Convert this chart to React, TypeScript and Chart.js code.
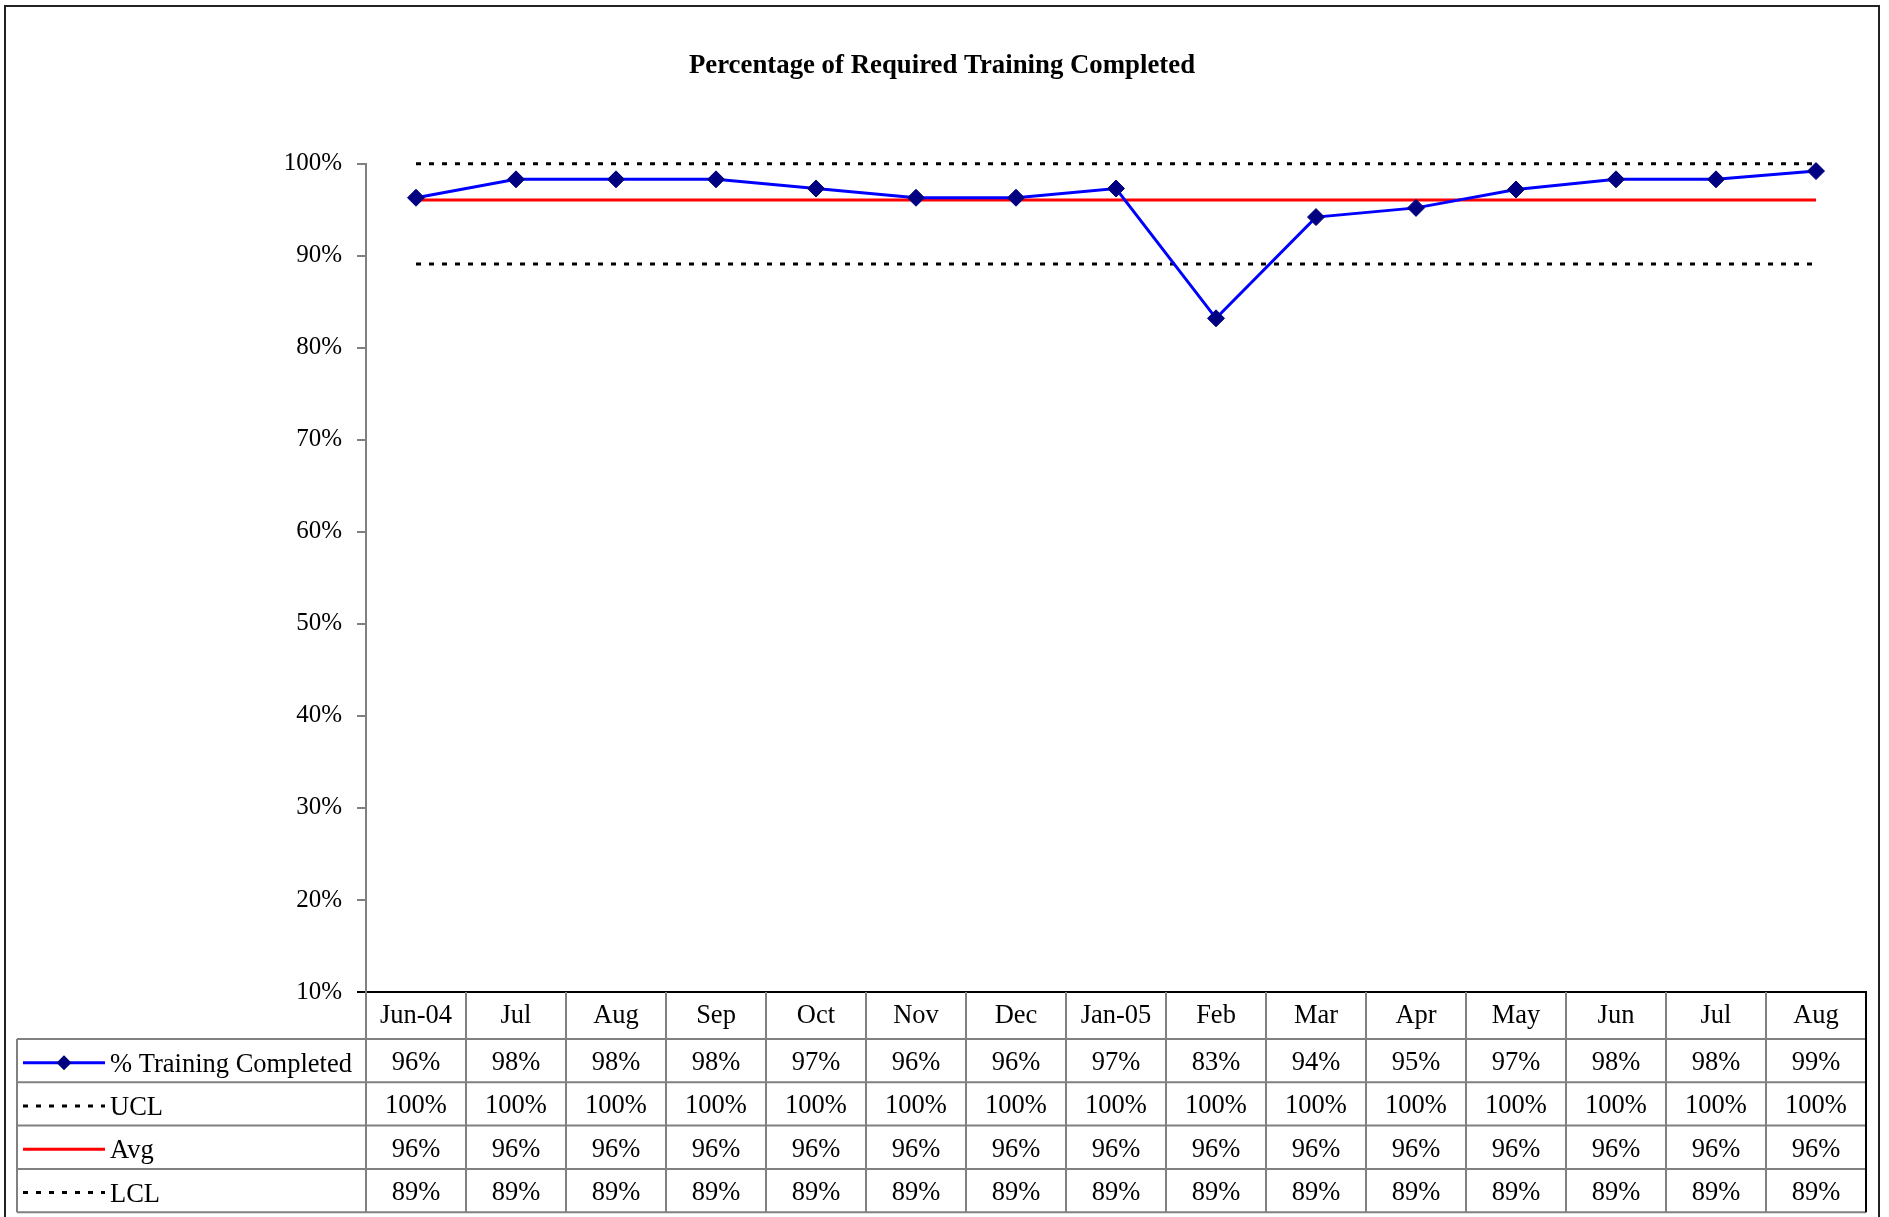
import React, { useEffect, useRef } from "react";
import { Chart, registerables } from "chart.js";

Chart.register(...registerables);

const TITLE = "Percentage of Required Training Completed";
const categories = ["Jun-04", "Jul", "Aug", "Sep", "Oct", "Nov", "Dec", "Jan-05", "Feb", "Mar", "Apr", "May", "Jun", "Jul", "Aug"];
const completed = [96.3, 98.3, 98.3, 98.3, 97.3, 96.3, 96.3, 97.3, 83.2, 94.2, 95.2, 97.2, 98.3, 98.3, 99.2];
const ucl = [100, 100, 100, 100, 100, 100, 100, 100, 100, 100, 100, 100, 100, 100, 100];
const avg = [96.05, 96.05, 96.05, 96.05, 96.05, 96.05, 96.05, 96.05, 96.05, 96.05, 96.05, 96.05, 96.05, 96.05, 96.05];
const lcl = [89.1, 89.1, 89.1, 89.1, 89.1, 89.1, 89.1, 89.1, 89.1, 89.1, 89.1, 89.1, 89.1, 89.1, 89.1];
const seriesNames = ["% Training Completed", "UCL", "Avg", "LCL"];
const yTicks = [10, 20, 30, 40, 50, 60, 70, 80, 90, 100];

const W = 1889;
const H = 1217;
const SERIF = "'Liberation Serif', 'Times New Roman', serif";
const GRAY = "#808080";
const DASH = [5, 8];

const tablePlugin = {
  id: "tablePlugin",
  afterDraw(chart: any) {
    const ctx = chart.ctx;
    const area = chart.chartArea;
    const xs = chart.scales.x;
    const n = categories.length;
    const band = (area.right - area.left) / n;
    const top = area.bottom;
    const headerBottom = top + 47;
    const rowH = 43.3;
    const tableLeft = 17;
    const tableBottom = headerBottom + rowH * 4;
    const rows = [completed, ucl, avg, lcl];

    ctx.save();
    // frame
    ctx.strokeStyle = "#222";
    ctx.lineWidth = 2;
    ctx.beginPath();
    ctx.moveTo(5, H + 5);
    ctx.lineTo(5, 6);
    ctx.lineTo(1879, 6);
    ctx.lineTo(1879, H + 5);
    ctx.stroke();

    // title
    ctx.fillStyle = "#000";
    ctx.font = `bold 26.8px ${SERIF}`;
    ctx.textAlign = "center";
    ctx.textBaseline = "middle";
    ctx.fillText(TITLE, 942, 66);

    // table grid
    ctx.strokeStyle = GRAY;
    ctx.lineWidth = 2;
    ctx.beginPath();
    for (let r = 0; r <= 4; r++) {
      const y = headerBottom + r * rowH;
      ctx.moveTo(tableLeft, y);
      ctx.lineTo(area.right, y);
    }
    ctx.moveTo(tableLeft, headerBottom);
    ctx.lineTo(tableLeft, tableBottom);
    for (let i = 0; i < n; i++) {
      const x = area.left + i * band;
      ctx.moveTo(x, top);
      ctx.lineTo(x, tableBottom);
    }
    ctx.stroke();
    ctx.strokeStyle = "#000";
    ctx.beginPath();
    ctx.moveTo(area.right, top);
    ctx.lineTo(area.right, tableBottom);
    ctx.stroke();

    // header labels
    ctx.fillStyle = "#000";
    ctx.font = `26.5px ${SERIF}`;
    ctx.textAlign = "center";
    ctx.textBaseline = "middle";
    categories.forEach((c, i) => {
      ctx.fillText(c, xs.getPixelForValue(i), (top + headerBottom) / 2 + 1);
    });
    // values
    rows.forEach((vals, r) => {
      const yMid = headerBottom + r * rowH + rowH / 2 + 2.5;
      vals.forEach((v, i) => {
        ctx.fillText(Math.round(v) + "%", xs.getPixelForValue(i), yMid);
      });
    });

    // legend cells
    const symL = 23;
    const symR = 105;
    rows.forEach((_, r) => {
      const yMid = headerBottom + r * rowH + rowH / 2;
      const ds = chart.data.datasets[r];
      ctx.save();
      ctx.strokeStyle = ds.borderColor;
      ctx.lineWidth = 3;
      ctx.setLineDash(ds.borderDash || []);
      ctx.beginPath();
      ctx.moveTo(symL, yMid + 2);
      ctx.lineTo(symR, yMid + 2);
      ctx.stroke();
      ctx.restore();
      if (r === 0) {
        ctx.fillStyle = "#000080";
        ctx.beginPath();
        const cx = (symL + symR) / 2;
        const cy = yMid + 2;
        const s = 7.5;
        ctx.moveTo(cx, cy - s);
        ctx.lineTo(cx + s, cy);
        ctx.lineTo(cx, cy + s);
        ctx.lineTo(cx - s, cy);
        ctx.closePath();
        ctx.fill();
      }
      ctx.fillStyle = "#000";
      ctx.textAlign = "left";
      ctx.textBaseline = "middle";
      ctx.font = `26.5px ${SERIF}`;
      ctx.fillText(seriesNames[r], 110, yMid + 4);
    });
    ctx.restore();
  },
};

export default function App() {
  const ref = useRef<HTMLCanvasElement | null>(null);

  useEffect(() => {
    document.body.style.margin = "0";
    const canvas = ref.current;
    if (!canvas) return;
    const chart = new Chart(canvas, {
      type: "line",
      data: {
        labels: categories,
        datasets: [
          {
            label: seriesNames[0],
            data: completed,
            borderColor: "#0000FF",
            borderWidth: 3,
            pointStyle: "rectRot",
            pointRadius: 8.5,
            pointBackgroundColor: "#000080",
            pointBorderColor: "#000080",
            pointBorderWidth: 1,
            tension: 0,
            clip: false,
          },
          {
            label: seriesNames[1],
            data: ucl,
            borderColor: "#000000",
            borderWidth: 3,
            borderDash: DASH,
            pointRadius: 0,
            clip: false,
          },
          {
            label: seriesNames[2],
            data: avg,
            borderColor: "#FF0000",
            borderWidth: 3,
            pointRadius: 0,
            clip: false,
          },
          {
            label: seriesNames[3],
            data: lcl,
            borderColor: "#000000",
            borderWidth: 3,
            borderDash: DASH,
            pointRadius: 0,
            clip: false,
          },
        ],
      },
      options: {
        responsive: false,
        animation: false,
        devicePixelRatio: 1,
        layout: { padding: { top: 163.7, right: 23, left: 0, bottom: 0 } },
        plugins: {
          legend: { display: false },
          title: { display: false },
          tooltip: { enabled: false },
        },
        scales: {
          x: {
            type: "category",
            offset: true,
            grid: { display: false },
            ticks: { display: false },
            border: { display: true, color: "#000", width: 2 },
            afterFit: (scale: any) => {
              scale.height = H - 992;
            },
          },
          y: {
            min: 10,
            max: 100,
            afterBuildTicks: (scale: any) => {
              scale.ticks = yTicks.map((v) => ({ value: v }));
            },
            ticks: {
              color: "#000",
              padding: 15,
              font: { family: SERIF, size: 25 },
              callback: (v: any) => v + "%",
            },
            grid: {
              drawOnChartArea: false,
              drawTicks: true,
              tickLength: 9,
              lineWidth: 2,
              color: (c: any) => (c.tick && c.tick.value === 10 ? "#000" : GRAY),
            },
            border: { display: true, color: GRAY, width: 2 },
            afterFit: (scale: any) => {
              scale.width = 366;
            },
          },
        },
      },
      plugins: [tablePlugin],
    });
    return () => chart.destroy();
  }, []);

  return (
    <div style={{ width: W, height: H, background: "#fff" }}>
      <canvas ref={ref} width={W} height={H} style={{ width: W, height: H, display: "block" }} />
    </div>
  );
}
